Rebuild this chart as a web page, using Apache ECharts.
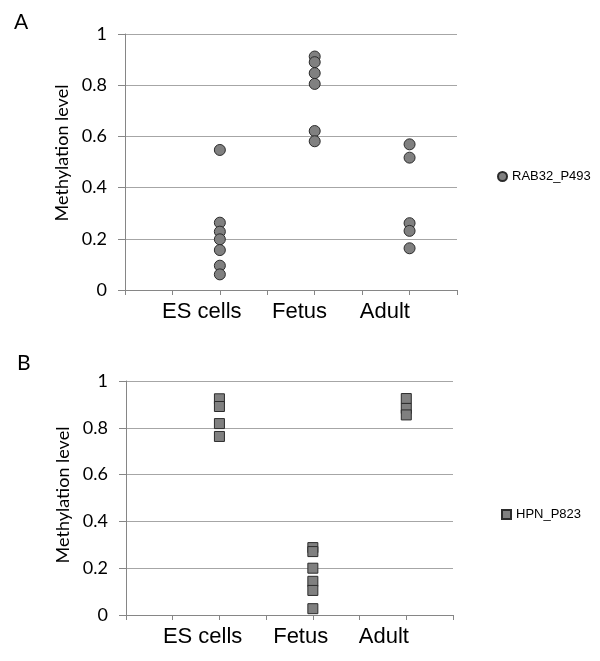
<!DOCTYPE html>
<html><head><meta charset="utf-8">
<script src="https://cdn.jsdelivr.net/npm/echarts@6/dist/echarts.min.js"></script>
<style>html,body{margin:0;padding:0;background:#fff}#c{width:600px;height:661px}</style>
</head><body><div id="c"></div>
<script>
// ---- data ----
const categories = ['ES cells', 'Fetus', 'Adult'];
const seriesNames = ['RAB32_P493', 'HPN_P823'];
// Panel A (RAB32_P493)
const rabES = [0.547, 0.263, 0.228, 0.198, 0.156, 0.095, 0.061];
const rabFetus = [0.912, 0.890, 0.847, 0.805, 0.621, 0.581];
const rabAdult = [0.569, 0.517, 0.261, 0.231, 0.163];
// Panel B (HPN_P823)
const hpnES = [0.924, 0.891, 0.818, 0.763];
const hpnFetus = [0.288, 0.271, 0.200, 0.144, 0.105, 0.027];
const hpnAdult = [0.925, 0.883, 0.855];
const yTickValues = [0, 0.2, 0.4, 0.6, 0.8, 1];

// ---- layout constants ----
const xTickPos = [0, 0.5, 1, 1.5, 2, 2.5, 3, 3.5];
const labelPosA = [0.81, 1.84, 2.74];
const labelPosB = [0.82, 1.87, 2.76];

function build(groups) {
  const out = [];
  groups.forEach((g, i) => g.forEach(v => out.push([i + 1, v])));
  return out;
}
const catFmt = v => categories[Math.round(v) - 1] || '';

const gridCol = '#a6a6a6';
const axisCol = '#868686';
function xAxis(gridIndex, labelPos) {
  return {
    type: 'value', gridIndex, min: 0, max: 3.5, interval: 0.5,
    axisLine: { show: true, lineStyle: { color: axisCol, width: 1 } },
    axisTick: { show: true, inside: false, length: 5, customValues: xTickPos, lineStyle: { color: axisCol } },
    axisLabel: { customValues: labelPos, formatter: catFmt, margin: 11,
      fontFamily: 'Liberation Sans', fontSize: 22, color: '#000' },
    splitLine: { show: false }
  };
}
function yAxis(gridIndex, pad) {
  return {
    type: 'value', gridIndex, min: 0, max: 1, interval: 0.2,
    axisLine: { show: true, lineStyle: { color: axisCol, width: 1 } },
    axisTick: { show: true, length: 7, lineStyle: { color: axisCol } },
    axisLabel: { margin: 18, fontFamily: 'Lato', fontSize: 18, color: '#000',
      customValues: yTickValues },
    splitLine: { show: true, lineStyle: { color: gridCol, width: 1 } },
    name: 'Methylation level', nameLocation: 'middle', nameGap: 50,
    nameTextStyle: { fontFamily: 'Lato', fontSize: 18, color: '#000', padding: [0, 0, 0, pad] }
  };
}

const option = {
  animation: false,
  backgroundColor: '#fff',
  grid: [
    { left: 125, top: 34, width: 332, height: 256 },
    { left: 126, top: 381, width: 327, height: 234 }
  ],
  xAxis: [xAxis(0, labelPosA), xAxis(1, labelPosB)],
  yAxis: [yAxis(0, 18), yAxis(1, 6)],
  legend: [
    { data: [seriesNames[0]], left: 497, top: 170, padding: 0, itemWidth: 9, itemHeight: 9,
      textStyle: { fontFamily: 'Liberation Sans', fontSize: 13, color: '#000' } },
    { data: [seriesNames[1]], left: 501, top: 508, padding: 0, itemWidth: 9, itemHeight: 9,
      textStyle: { fontFamily: 'Liberation Sans', fontSize: 13, color: '#000' } }
  ],
  graphic: [
    { type: 'text', left: 14, top: 12, style: { text: 'A', fontFamily: 'Lato', fontSize: 21, fill: '#000' } },
    { type: 'text', left: 17, top: 353, style: { text: 'B', fontFamily: 'Lato', fontSize: 21, fill: '#000' } }
  ],
  series: [
    { name: seriesNames[0], type: 'scatter', xAxisIndex: 0, yAxisIndex: 0,
      symbol: 'circle', symbolSize: 11,
      itemStyle: { color: '#808080', borderColor: '#2b2b2b', borderWidth: 1, opacity: 1 },
      data: build([rabES, rabFetus, rabAdult]) },
    { name: seriesNames[1], type: 'scatter', xAxisIndex: 1, yAxisIndex: 1,
      symbol: 'rect', symbolSize: 10,
      itemStyle: { color: '#808080', borderColor: '#2b2b2b', borderWidth: 1, opacity: 1 },
      data: build([hpnES, hpnFetus, hpnAdult]) }
  ]
};
const chart = echarts.init(document.getElementById('c'), null, { renderer: 'canvas' });
chart.setOption(option);
</script></body></html>
